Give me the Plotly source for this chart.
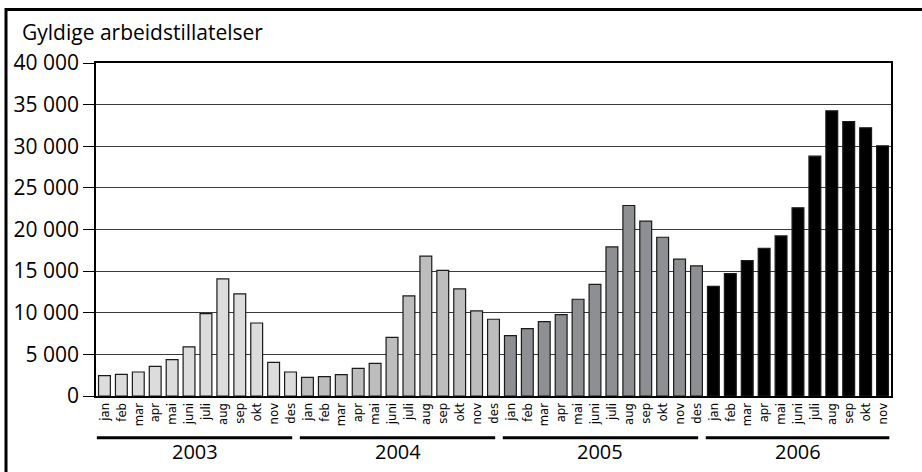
import plotly.graph_objects as go

years = ["2003", "2004", "2005", "2006"]
months = ["jan", "feb", "mar", "apr", "mai", "juni", "juli", "aug", "sep", "okt", "nov", "des"]

values_2003 = [2450, 2600, 2880, 3570, 4360, 5890, 9890, 14060, 12260, 8770, 4050, 2880]
values_2004 = [2240, 2320, 2560, 3330, 3930, 7050, 12020, 16790, 15100, 12860, 10220, 9220]
values_2005 = [7250, 8090, 8930, 9770, 11620, 13420, 17910, 22880, 21000, 19070, 16430, 15620]
values_2006 = [13180, 14700, 16260, 17750, 19230, 22600, 28810, 34250, 32970, 32210, 30050]

series = [values_2003, values_2004, values_2005, values_2006]
colors = ["#dcdcdc", "#bdbdbd", "#8e8f92", "#000000"]

y_ticks = [0, 5000, 10000, 15000, 20000, 25000, 30000, 35000, 40000]
y_ticktext = [f"{v:,}".replace(",", " ") for v in y_ticks]

FONT = "Open Sans, Noto Sans, DejaVu Sans, sans-serif"
NARROW = "DejaVu Sans Condensed, Open Sans, sans-serif"

fig = go.Figure()

x_vals = []
x_text = []
idx = 0
groups = []
for yr, vals, col in zip(years, series, colors):
    xs = list(range(idx, idx + len(vals)))
    groups.append((yr, xs[0], xs[-1]))
    x_vals += xs
    x_text += months[:len(vals)]
    fig.add_trace(go.Bar(
        x=xs, y=vals, name=yr,
        marker=dict(color=col, line=dict(color="#1a1a1a", width=1.2)),
        showlegend=False,
    ))
    idx += len(vals)

n = len(x_vals)

fig.update_layout(
    width=922, height=472,
    margin=dict(l=96, r=31, t=63, b=76, autoexpand=False),
    paper_bgcolor="white", plot_bgcolor="white",
    bargap=0.3,
    font=dict(family=FONT, color="black"),
)

fig.update_xaxes(
    range=[-0.5, n - 0.5],
    tickmode="array", tickvals=x_vals, ticktext=x_text,
    tickangle=-90, tickfont=dict(size=13, family=NARROW, color="black"),
    ticks="", showgrid=False,
    showline=True, linecolor="black", linewidth=1.5, mirror=True,
    zeroline=False,
)
fig.update_yaxes(
    range=[0, 40000],
    tickmode="array", tickvals=y_ticks, ticktext=y_ticktext,
    tickfont=dict(size=21, color="black"),
    ticks="outside", ticklen=11, tickcolor="black", tickwidth=1,
    showgrid=True, gridcolor="#3a3a3a", gridwidth=1,
    showline=True, linecolor="black", linewidth=1.5, mirror=True,
    zeroline=False,
)

# Year group lines and labels
shapes = []
annotations = []
for k, (yr, first, last) in enumerate(groups):
    x0 = first - 0.45
    x1 = last + (0.1 if k < len(groups) - 1 else 0.4)
    shapes.append(dict(type="line", xref="x", yref="paper",
                       x0=x0, x1=x1, y0=-0.125, y1=-0.125,
                       line=dict(color="black", width=3)))
    annotations.append(dict(x=(x0 + x1) / 2, y=-0.168, xref="x", yref="paper",
                            text=yr, showarrow=False, xanchor="center", yanchor="middle",
                            font=dict(size=20, family=FONT, color="black")))

# Outer frame (top and left edges visible)
shapes.append(dict(type="rect", xref="paper", yref="paper",
                   x0=(6 - 96) / 795, x1=(940 - 96) / 795,
                   y0=(396 - 490) / 333, y1=(396 - 9.5) / 333,
                   line=dict(color="black", width=3), fillcolor="rgba(0,0,0,0)"))

annotations.append(dict(x=(20 - 96) / 795, y=(396 - 32) / 333, xref="paper", yref="paper",
                        text="Gyldige arbeidstillatelser", showarrow=False,
                        xanchor="left", yanchor="middle",
                        font=dict(size=21, family=FONT, color="black")))

fig.update_layout(shapes=shapes, annotations=annotations)

fig.write_html("out.html", config={"displayModeBar": False},
               post_script="document.body.style.margin='0';document.body.style.overflow='hidden';")
